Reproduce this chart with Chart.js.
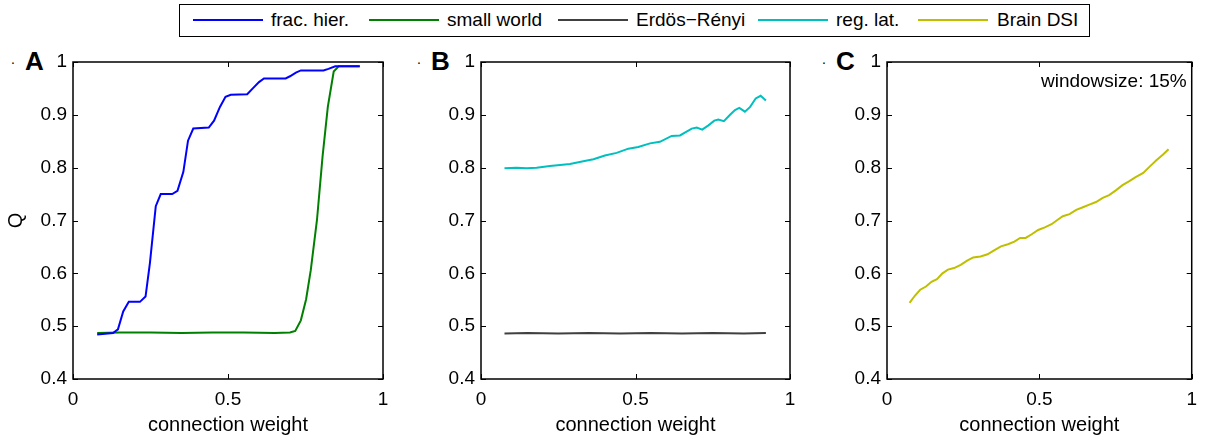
<!DOCTYPE html>
<html>
<head>
<meta charset="utf-8">
<script src="https://cdn.jsdelivr.net/npm/chart.js@4/dist/chart.umd.min.js"></script>
<style>
  body { margin: 0; background: #fff; font-family: "Liberation Sans", Arial, sans-serif; }
  #page { position: relative; width: 1206px; height: 437px; overflow: hidden; }
  canvas { position: absolute; }
  .legend { position: absolute; left: 179px; top: 4px; width: 909px; height: 31px; border: 1.5px solid #000; }
  .swatch { position: absolute; top: 14px; height: 2px; width: 70px; }
  .ltext { position: absolute; top: 4px; font-size: 19px; line-height: 22px; color: #000; white-space: nowrap; }
  .panel { position: absolute; font-weight: bold; font-size: 26px; line-height: 26px; }
  .dot { position: absolute; font-size: 14px; line-height: 14px; }
</style>
</head>
<body>
<div id="page">
  <div class="legend" id="legend"></div>
  <span class="dot" style="left:11px;top:52px">.</span>
  <span class="panel" style="left:25px;top:48px">A</span>
  <span class="dot" style="left:417px;top:52px">.</span>
  <span class="panel" style="left:431px;top:48px">B</span>
  <span class="dot" style="left:822px;top:52px">.</span>
  <span class="panel" style="left:836px;top:48px">C</span>
  <canvas id="chartA" width="400" height="397" style="left:0;top:40px"></canvas>
  <canvas id="chartB" width="400" height="397" style="left:408px;top:40px"></canvas>
  <canvas id="chartC" width="392" height="397" style="left:814px;top:40px"></canvas>
</div>
<script>
// values
const xTicks = [0, 0.5, 1];
const yTicks = [0.4, 0.5, 0.6, 0.7, 0.8, 0.9, 1];

const fracX = [0.078, 0.129, 0.145, 0.162, 0.18, 0.216, 0.234, 0.248, 0.267, 0.283, 0.32, 0.337, 0.356, 0.371, 0.388, 0.438, 0.455, 0.474, 0.492, 0.509, 0.562, 0.58, 0.6, 0.616, 0.686, 0.7, 0.719, 0.735, 0.808, 0.824, 0.846, 0.925];
const fracQ = [0.484, 0.487, 0.494, 0.528, 0.546, 0.546, 0.556, 0.619, 0.727, 0.75, 0.75, 0.756, 0.792, 0.851, 0.874, 0.876, 0.889, 0.915, 0.934, 0.938, 0.939, 0.95, 0.962, 0.969, 0.969, 0.973, 0.98, 0.984, 0.984, 0.987, 0.992, 0.992];

const swX = [0.078, 0.15, 0.25, 0.35, 0.45, 0.55, 0.65, 0.70, 0.717, 0.735, 0.752, 0.767, 0.787, 0.805, 0.822, 0.841, 0.857, 0.925];
const swQ = [0.487, 0.488, 0.488, 0.487, 0.488, 0.488, 0.487, 0.488, 0.491, 0.511, 0.551, 0.606, 0.701, 0.821, 0.915, 0.982, 0.992, 0.992];

const erX = [0.076, 0.15, 0.25, 0.35, 0.45, 0.55, 0.65, 0.75, 0.85, 0.922];
const erQ = [0.486, 0.487, 0.486, 0.487, 0.486, 0.487, 0.486, 0.487, 0.486, 0.487];

const regX = [0.076, 0.115, 0.148, 0.18, 0.223, 0.256, 0.288, 0.331, 0.364, 0.401, 0.439, 0.477, 0.509, 0.547, 0.579, 0.617, 0.644, 0.682, 0.698, 0.716, 0.736, 0.755, 0.768, 0.786, 0.806, 0.822, 0.836, 0.854, 0.871, 0.889, 0.905, 0.922];
const regQ = [0.799, 0.8, 0.799, 0.8, 0.803, 0.805, 0.807, 0.812, 0.816, 0.823, 0.828, 0.836, 0.839, 0.846, 0.849, 0.86, 0.861, 0.874, 0.876, 0.872, 0.88, 0.889, 0.891, 0.888, 0.9, 0.909, 0.913, 0.906, 0.915, 0.931, 0.936, 0.927];

const dsiX = [0.074, 0.092, 0.109, 0.128, 0.146, 0.164, 0.182, 0.2, 0.22, 0.242, 0.263, 0.283, 0.307, 0.33, 0.35, 0.374, 0.397, 0.418, 0.437, 0.455, 0.475, 0.496, 0.518, 0.54, 0.559, 0.577, 0.599, 0.621, 0.643, 0.664, 0.686, 0.708, 0.729, 0.751, 0.773, 0.794, 0.816, 0.841, 0.862, 0.884, 0.906, 0.924];
const dsiQ = [0.544, 0.558, 0.569, 0.575, 0.584, 0.589, 0.6, 0.607, 0.61, 0.616, 0.624, 0.63, 0.632, 0.636, 0.643, 0.651, 0.655, 0.66, 0.667, 0.667, 0.674, 0.682, 0.687, 0.693, 0.701, 0.708, 0.712, 0.72, 0.725, 0.73, 0.735, 0.743, 0.748, 0.757, 0.767, 0.774, 0.782, 0.79, 0.802, 0.814, 0.825, 0.835];

const seriesNames = ['frac. hier.', 'small world', 'Erdös\u2212Rényi', 'reg. lat.', 'Brain DSI'];
const seriesColors = ['#0000ff', '#008000', '#404040', '#00bfbf', '#bfbf00'];

Chart.defaults.font.family = '"Liberation Sans", Arial, sans-serif';
Chart.defaults.font.size = 19;
Chart.defaults.color = '#000';

// legend (html, one row)
const swatchLeft = [193, 369, 558, 758, 918];
const textLeft = [271, 447, 636, 836, 997];
const legend = document.getElementById('legend');
seriesNames.forEach((name, i) => {
    legend.insertAdjacentHTML('beforeend',
        `<div class="swatch" style="left:${swatchLeft[i] - 180}px;background:${seriesColors[i]}"></div>` +
        `<div class="ltext" style="left:${textLeft[i] - 180}px">${name}</div>`);
});

const pts = (xs, ys) => xs.map((x, i) => ({ x: x, y: ys[i] }));

// matlab-like box with inward ticks on all sides
const framePlugin = {
    id: 'frame',
    afterDatasetsDraw(chart) {
        const { ctx, chartArea: a, scales } = chart;
        ctx.save();
        ctx.strokeStyle = '#000';
        ctx.lineWidth = 1.5;
        ctx.strokeRect(a.left, a.top, a.right - a.left, a.bottom - a.top);
        ctx.lineWidth = 1;
        ctx.beginPath();
        yTicks.forEach(v => {
            const y = Math.round(scales.y.getPixelForValue(v)) + 0.5;
            ctx.moveTo(a.left, y); ctx.lineTo(a.left + 5, y);
            ctx.moveTo(a.right, y); ctx.lineTo(a.right - 5, y);
        });
        xTicks.forEach(v => {
            const x = Math.round(scales.x.getPixelForValue(v)) + 0.5;
            ctx.moveTo(x, a.bottom); ctx.lineTo(x, a.bottom - 5);
            ctx.moveTo(x, a.top); ctx.lineTo(x, a.top + 5);
        });
        ctx.stroke();
        const note = chart.options.plugins.frame && chart.options.plugins.frame.note;
        if (note) {
            ctx.fillStyle = '#000';
            ctx.font = '19px "Liberation Sans", Arial, sans-serif';
            ctx.textAlign = 'right';
            ctx.textBaseline = 'middle';
            ctx.fillText(note, a.right - 5, a.top + 20);
        }
        ctx.restore();
    }
};

function makeChart(id, datasets, opts) {
    return new Chart(document.getElementById(id), {
        type: 'line',
        data: { datasets: datasets },
        options: {
            responsive: false,
            animation: false,
            layout: { padding: { left: 0, top: 22, right: opts.padRight, bottom: 0 } },
            plugins: { legend: { display: false }, tooltip: { enabled: false }, frame: { note: opts.note } },
            elements: { point: { radius: 0 }, line: { tension: 0, borderWidth: 2 } },
            scales: {
                x: {
                    type: 'linear', min: 0, max: 1,
                    afterBuildTicks: s => { s.ticks = xTicks.map(v => ({ value: v })); },
                    afterFit: s => { s.height = 58; },
                    ticks: { padding: 9, maxRotation: 0, callback: v => String(v) },
                    grid: { display: false, drawTicks: false },
                    border: { display: false },
                    title: { display: true, text: 'connection weight', font: { size: 20 }, padding: { top: 0, bottom: 0 } }
                },
                y: {
                    type: 'linear', min: 0.4, max: 1,
                    afterBuildTicks: s => { s.ticks = yTicks.map(v => ({ value: v })); },
                    afterFit: s => { s.width = 73; },
                    ticks: { padding: 6, callback: v => String(Math.round(v * 10) / 10) },
                    grid: { display: false, drawTicks: false },
                    border: { display: false },
                    title: { display: !!opts.yTitle, text: opts.yTitle || '', font: { size: 20 } }
                }
            }
        },
        plugins: [framePlugin]
    });
}

const line = (i, xs, ys) => ({ label: seriesNames[i], data: pts(xs, ys), borderColor: seriesColors[i], fill: false });

makeChart('chartA', [line(0, fracX, fracQ), line(1, swX, swQ)], { padRight: 17, yTitle: 'Q' });
makeChart('chartB', [line(2, erX, erQ), line(3, regX, regQ)], { padRight: 18 });
makeChart('chartC', [line(4, dsiX, dsiQ)], { padRight: 10, note: 'windowsize: 15%' });
</script>
</body>
</html>
